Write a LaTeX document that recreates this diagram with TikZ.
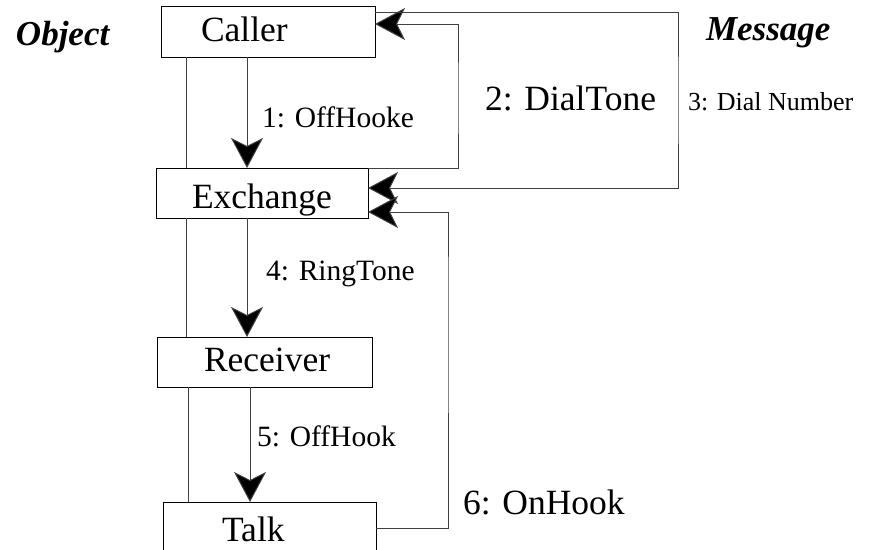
\documentclass[tikz,border=0pt]{standalone}
\usepackage{fontspec}
\setmainfont{Liberation Serif}
\usetikzlibrary{arrows.meta}
\tikzset{
  box/.style={draw=black, line width=1pt, rectangle, inner sep=0pt, outer sep=0pt},
  lbl/.style={anchor=base west, inner sep=0pt, outer sep=0pt},
  life/.style={draw=black!75, line width=1pt},
  msg/.style={draw=black!75, line width=1pt, -{Stealth[length=30pt,width=32pt,inset=8pt,fill=black]}},
  bigf/.style={font=\fontsize{35.5}{41}\selectfont},
  midf/.style={font=\fontsize{29.5}{35}\selectfont},
  smlf/.style={font=\fontsize{26}{31}\selectfont},
  headf/.style={font=\fontsize{35}{41}\selectfont\bfseries\itshape},
}
\begin{document}
\begin{tikzpicture}[x=1pt,y=-1pt]
\useasboundingbox (0,0) rectangle (881,549);
\clip (0,0) rectangle (881,549);
% boxes
\node[box, minimum width=214pt, minimum height=51pt] (caller) at (268,31.5) {};
\node[box, minimum width=212pt, minimum height=50pt] (exchange) at (262,193) {};
\node[box, minimum width=215pt, minimum height=50pt] (receiver) at (264.5,362) {};
\node[box, minimum width=213pt, minimum height=80pt] (talk) at (269.5,542) {};
% box texts
\node[lbl, bigf] (tcaller) at (201,41) {Caller};
\node[lbl, bigf] (texchange) at (192,208) {Exchange};
\node[lbl, bigf] (treceiver) at (204,371) {Receiver};
\node[lbl, bigf] (ttalk) at (222,541) {Talk};
% headers
\node[lbl, headf] (hobj) at (16,45) {Object};
\node[lbl, headf] (hmsg) at (706,40) {Message};
% lifelines
\draw[life] (caller.south -| 186,0) -- (exchange.north -| 186,0);
\draw[life] (exchange.south -| 186,0) -- (receiver.north -| 186,0);
\draw[life] (receiver.south -| 188,0) -- (talk.north -| 188,0);
% messages down
\draw[msg] (caller.south -| 247,0) -- (exchange.north -| 247,0);
\draw[msg] (exchange.south -| 247,0) -- (receiver.north -| 247,0);
\draw[msg] (receiver.south -| 250,0) -- (talk.north -| 250,0);
% return loops
\draw[msg] (exchange.north east) -| (458,100) |- (caller.east |- 0,24);
\draw[msg] (caller.east |- 0,12) -| (678,100) |- (exchange.east |- 0,188);
\draw[msg] (talk.east |- 0,528) -| (448,300) |- (exchange.east |- 0,212);
% labels
\node[lbl, midf] (l1) at (262,127) {1: OffHooke};
\node[lbl, bigf] (l2) at (485,110) {2: DialTone};
\node[lbl, smlf] (l3) at (688,110) {3: Dial Number};
\node[lbl, midf] (l4) at (266,280) {4: RingTone};
\node[lbl, midf] (l5) at (257,446) {5: OffHook};
\node[lbl, bigf] (l6) at (463,514) {6: OnHook};
\end{tikzpicture}
\end{document}
